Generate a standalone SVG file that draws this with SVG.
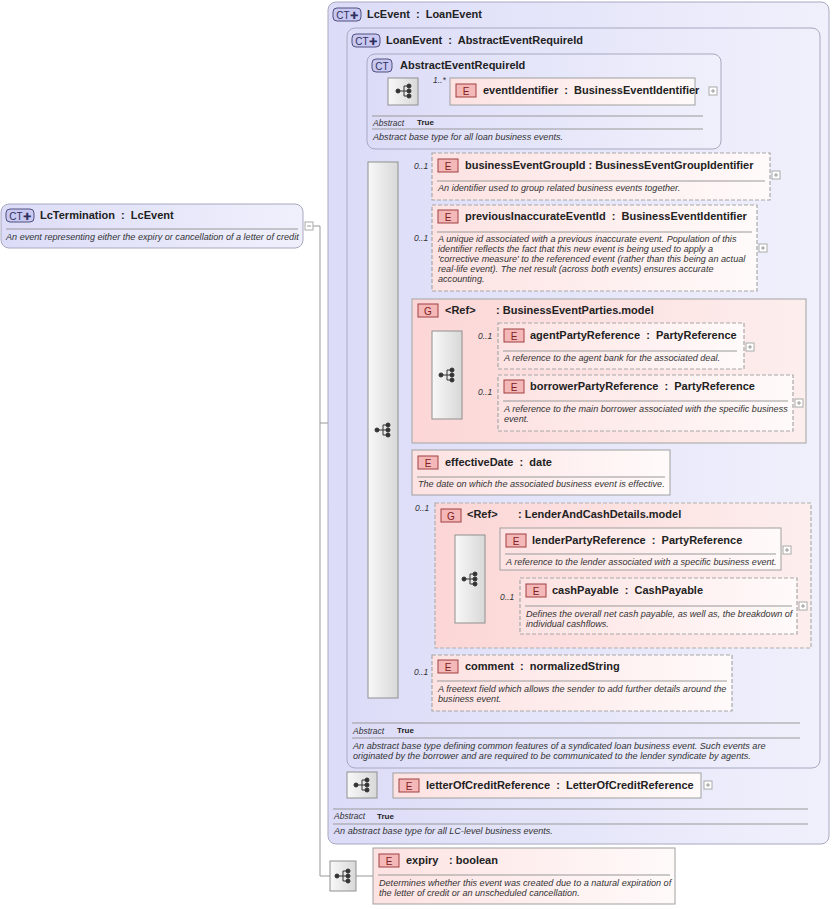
<svg xmlns="http://www.w3.org/2000/svg" width="833" height="909" viewBox="0 0 833 909">
<style>
text{font-family:"Liberation Sans",Arial,sans-serif;fill:#222}
.t{font-size:11px;font-weight:bold}
.d{font-size:9.1px;font-style:italic;fill:#333}
.o{font-size:8.5px;font-style:italic;fill:#333}
.ct{fill:url(#gct);stroke:#a8a8c0;stroke-width:1}
.el{fill:url(#gel);stroke:#a0a0a0;stroke-width:1}
.eld{fill:url(#gel);stroke:#a8a8a8;stroke-width:1.2;stroke-dasharray:4,2}
.grp{fill:url(#ggr);stroke:#b0b0b0;stroke-width:1.2}
.sq{fill:url(#gsq);stroke:#909090}
.sep{stroke:#999;stroke-width:1}
.c{stroke:#999;stroke-width:1;fill:none}
.pl{fill:#fff;stroke:#aaa}
.badge{fill:#f4b8b8;stroke:#a04040}
.ctb{fill:#c8c8f0;stroke:#505080}
</style>
<defs>
<linearGradient id="gct" x1="0" y1="0" x2="1" y2="0"><stop offset="0" stop-color="#dcdcf8"/><stop offset="1" stop-color="#f0f0fc"/></linearGradient>
<linearGradient id="gel" x1="0" y1="0" x2="1" y2="0"><stop offset="0" stop-color="#fde2e2"/><stop offset="1" stop-color="#fffafa"/></linearGradient>
<linearGradient id="ggr" x1="0" y1="0" x2="1" y2="0"><stop offset="0" stop-color="#fcd6d6"/><stop offset="1" stop-color="#fdeeee"/></linearGradient>
<linearGradient id="gsq" x1="0" y1="0" x2="1" y2="0"><stop offset="0" stop-color="#f8f8f8"/><stop offset="1" stop-color="#d8d8d8"/></linearGradient>
<g id="ic" fill="#333" stroke="#333"><circle cx="-6" cy="0" r="2"/><line x1="-6" y1="0" x2="0" y2="0"/><line x1="0" y1="-5" x2="0" y2="5"/><line x1="0" y1="-5" x2="5" y2="-5"/><line x1="0" y1="0" x2="5" y2="0"/><line x1="0" y1="5" x2="5" y2="5"/><circle cx="5" cy="-5" r="2"/><circle cx="5" cy="0" r="2"/><circle cx="5" cy="5" r="2"/></g>
<g id="eb"><rect x="0" y="0" width="20" height="13" class="badge"/><text x="10" y="10.5" text-anchor="middle" style="font-size:10px;fill:#802020">E</text></g>
<g id="gb"><rect x="0" y="0" width="20" height="13" class="badge"/><text x="10" y="10.5" text-anchor="middle" style="font-size:10px;fill:#802020">G</text></g>
<g id="plus"><rect x="0" y="0" width="8" height="8" class="pl"/><path d="M2 4h4M4 2v4" stroke="#999"/></g>
</defs>

<g id="connectors">
<path class="c" d="M313 226H320V876H330M320 423H340V785H347M340 398H358V100H367M358 430H368M418 91H450M398 175H432M398 248H432M398 372H412M398 472H412M398 575H435M398 683H432M462 346H498M462 403H498M485 550H500M485 608H520M356 876H373M377 785H393M367 91H388"/>
</g>

<g id="LcTermination">
<rect x="1" y="204" width="302" height="44" rx="8" class="ct"/>
<rect x="6" y="209" width="28" height="13" rx="4" class="ctb"/><text x="20" y="219.5" text-anchor="middle" style="font-size:10px;fill:#303060">CT✚</text>
<text x="40" y="219" class="t" xml:space="preserve">LcTermination  :  LcEvent</text>
<line x1="6" y1="229" x2="298" y2="229" class="sep"/>
<text x="6" y="240" class="d">An event representing either the expiry or cancellation of a letter of credit</text>
<rect x="305" y="222" width="8" height="8" class="pl"/><path d="M307 226h4" stroke="#999"/>
</g>

<g id="LcEvent">
<rect x="328" y="2" width="501" height="842" rx="8" class="ct"/>
<rect x="333" y="8" width="28" height="13" rx="4" class="ctb"/><text x="347" y="18.5" text-anchor="middle" style="font-size:10px;fill:#303060">CT✚</text>
<text x="367" y="18" class="t" xml:space="preserve">LcEvent  :  LoanEvent</text>
<line x1="333" y1="809" x2="808" y2="809" class="sep"/>
<text x="334" y="819" class="o">Abstract</text><text x="377" y="819" style="font-size:8px;font-weight:bold">True</text>
<line x1="333" y1="824" x2="808" y2="824" class="sep"/>
<text x="334" y="834" class="d">An abstract base type for all LC-level business events.</text>
</g>

<g id="LoanEvent">
<rect x="347" y="28" width="473" height="740" rx="8" class="ct"/>
<rect x="352" y="34" width="28" height="13" rx="4" class="ctb"/><text x="366" y="44.5" text-anchor="middle" style="font-size:10px;fill:#303060">CT✚</text>
<text x="386" y="44" class="t" xml:space="preserve">LoanEvent  :  AbstractEventRequireId</text>
<line x1="352" y1="723" x2="800" y2="723" class="sep"/>
<text x="353" y="734" class="o">Abstract</text><text x="397" y="733" style="font-size:8px;font-weight:bold">True</text>
<line x1="352" y1="738" x2="800" y2="738" class="sep"/>
<text x="353" y="749" class="d">An abstract base type defining common features of a syndicated loan business event. Such events are</text>
<text x="353" y="759" class="d">originated by the borrower and are required to be communicated to the lender syndicate by agents.</text>
</g>

<g id="AbstractEventRequireId">
<rect x="367" y="54" width="354" height="95" rx="8" class="ct"/>
<rect x="372" y="59" width="20" height="13" rx="4" class="ctb"/><text x="382" y="69.5" text-anchor="middle" style="font-size:10px;fill:#303060">CT</text>
<text x="400" y="69" class="t">AbstractEventRequireId</text>
<rect x="388" y="78" width="30" height="27" class="sq"/><use href="#ic" x="404" y="91"/>
<text x="433" y="83" class="o">1..*</text>
<line x1="372" y1="116" x2="703" y2="116" class="sep"/>
<text x="373" y="126" class="o">Abstract</text><text x="417" y="125" style="font-size:8px;font-weight:bold">True</text>
<line x1="372" y1="129" x2="703" y2="129" class="sep"/>
<text x="373" y="140" class="d">Abstract base type for all loan business events.</text>
</g>

<g id="eventIdentifier">
<rect x="450" y="78" width="245" height="27" class="el"/>
<use href="#eb" x="456" y="84"/>
<text x="483" y="94" class="t" xml:space="preserve">eventIdentifier  :  BusinessEventIdentifier</text>
<use href="#plus" x="709" y="87"/>
</g>

<g id="seqMain">
<rect x="368" y="162" width="30" height="536" class="sq"/><use href="#ic" x="383" y="430"/>
</g>

<g id="businessEventGroupId">
<text x="414" y="169" class="o">0..1</text>
<rect x="432" y="153" width="338" height="47" class="eld"/>
<use href="#eb" x="438" y="159"/>
<text x="465" y="169" class="t">businessEventGroupId : BusinessEventGroupIdentifier</text>
<line x1="437" y1="181" x2="765" y2="181" class="sep"/>
<text x="438" y="191" class="d">An identifier used to group related business events together.</text>
<use href="#plus" x="772" y="171"/>
</g>

<g id="previousInaccurateEventId">
<text x="414" y="241" class="o">0..1</text>
<rect x="432" y="205" width="325" height="86" class="eld"/>
<use href="#eb" x="438" y="210"/>
<text x="465" y="220" class="t" xml:space="preserve">previousInaccurateEventId  :  BusinessEventIdentifier</text>
<line x1="437" y1="232" x2="752" y2="232" class="sep"/>
<text x="438" y="242" class="d">A unique id associated with a previous inaccurate event. Population of this</text>
<text x="438" y="252" class="d">identifier reflects the fact that this new event is being used to apply a</text>
<text x="438" y="262" class="d">'corrective measure' to the referenced event (rather than this being an actual</text>
<text x="438" y="272" class="d">real-life event). The net result (across both events) ensures accurate</text>
<text x="438" y="282" class="d">accounting.</text>
<use href="#plus" x="759" y="244"/>
</g>

<g id="BusinessEventParties">
<rect x="412" y="299" width="394" height="144" class="grp"/>
<use href="#gb" x="418" y="304"/>
<text x="445" y="314" class="t">&lt;Ref&gt;</text><text x="496" y="314" class="t">: BusinessEventParties.model</text>
<rect x="432" y="331" width="30" height="88" class="sq"/><use href="#ic" x="447" y="375"/>
</g>

<g id="agentPartyReference">
<text x="478" y="339" class="o">0..1</text>
<rect x="498" y="323" width="246" height="46" class="eld"/>
<use href="#eb" x="504" y="329"/>
<text x="530" y="339" class="t" xml:space="preserve">agentPartyReference  :  PartyReference</text>
<line x1="503" y1="351" x2="737" y2="351" class="sep"/>
<text x="504" y="361" class="d">A reference to the agent bank for the associated deal.</text>
<use href="#plus" x="746" y="343"/>
</g>

<g id="borrowerPartyReference">
<text x="478" y="395" class="o">0..1</text>
<rect x="498" y="375" width="295" height="56" class="eld"/>
<use href="#eb" x="504" y="380"/>
<text x="530" y="390" class="t" xml:space="preserve">borrowerPartyReference  :  PartyReference</text>
<line x1="503" y1="401" x2="788" y2="401" class="sep"/>
<text x="504" y="412" class="d">A reference to the main borrower associated with the specific business</text>
<text x="504" y="422" class="d">event.</text>
<use href="#plus" x="795" y="399"/>
</g>

<g id="effectiveDate">
<rect x="412" y="450" width="258" height="45" class="el"/>
<use href="#eb" x="418" y="456"/>
<text x="445" y="466" class="t" xml:space="preserve">effectiveDate  :  date</text>
<line x1="417" y1="477" x2="665" y2="477" class="sep"/>
<text x="418" y="487" class="d">The date on which the associated business event is effective.</text>
</g>

<g id="LenderAndCashDetails">
<text x="415" y="511" class="o">0..1</text>
<rect x="435" y="503" width="376" height="145" class="grp" style="stroke-dasharray:4,2"/>
<use href="#gb" x="441" y="509"/>
<text x="467" y="518" class="t">&lt;Ref&gt;</text><text x="518" y="518" class="t">: LenderAndCashDetails.model</text>
<rect x="455" y="535" width="30" height="88" class="sq"/><use href="#ic" x="470" y="579"/>
</g>

<g id="lenderPartyReference">
<rect x="500" y="528" width="281" height="42" class="el"/>
<use href="#eb" x="506" y="534"/>
<text x="532" y="544" class="t" xml:space="preserve">lenderPartyReference  :  PartyReference</text>
<line x1="505" y1="554" x2="776" y2="554" class="sep"/>
<text x="506" y="565" class="d">A reference to the lender associated with a specific business event.</text>
<use href="#plus" x="783" y="546"/>
</g>

<g id="cashPayable">
<text x="500" y="600" class="o">0..1</text>
<rect x="520" y="578" width="277" height="56" class="eld"/>
<use href="#eb" x="526" y="584"/>
<text x="552" y="594" class="t" xml:space="preserve">cashPayable  :  CashPayable</text>
<line x1="525" y1="606" x2="792" y2="606" class="sep"/>
<text x="526" y="617" class="d">Defines the overall net cash payable, as well as, the breakdown of</text>
<text x="526" y="627" class="d">individual cashflows.</text>
<use href="#plus" x="799" y="602"/>
</g>

<g id="comment">
<text x="414" y="675" class="o">0..1</text>
<rect x="432" y="655" width="300" height="56" class="eld"/>
<use href="#eb" x="438" y="660"/>
<text x="465" y="670" class="t" xml:space="preserve">comment  :  normalizedString</text>
<line x1="437" y1="681" x2="727" y2="681" class="sep"/>
<text x="438" y="692" class="d">A freetext field which allows the sender to add further details around the</text>
<text x="438" y="702" class="d">business event.</text>
</g>

<g id="seqLcEvent">
<rect x="347" y="772" width="30" height="26" class="sq"/><use href="#ic" x="362" y="785"/>
</g>

<g id="letterOfCreditReference">
<rect x="393" y="773" width="308" height="25" class="el"/>
<use href="#eb" x="399" y="779"/>
<text x="426" y="789" class="t" xml:space="preserve">letterOfCreditReference  :  LetterOfCreditReference</text>
<use href="#plus" x="704" y="781"/>
</g>

<g id="seqLcTermination">
<rect x="330" y="861" width="26" height="30" class="sq"/><use href="#ic" x="343" y="876"/>
</g>

<g id="expiry">
<rect x="373" y="848" width="302" height="56" class="el"/>
<use href="#eb" x="379" y="854"/>
<text x="406" y="864" class="t">expiry</text><text x="449" y="864" class="t">: boolean</text>
<line x1="378" y1="875" x2="670" y2="875" class="sep"/>
<text x="379" y="886" class="d">Determines whether this event was created due to a natural expiration of</text>
<text x="379" y="896" class="d">the letter of credit or an unscheduled cancellation.</text>
</g>
</svg>
